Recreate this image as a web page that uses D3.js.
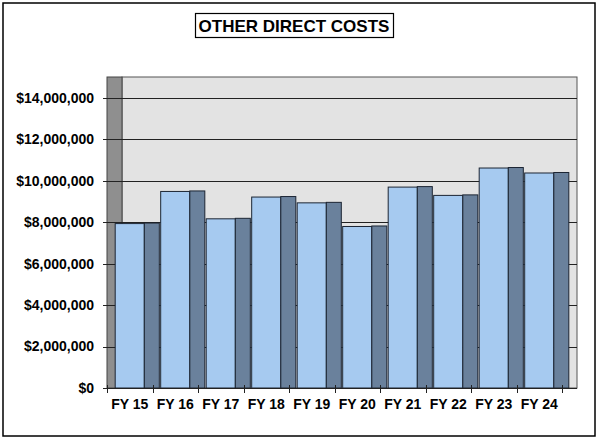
<!DOCTYPE html>
<html>
<head>
<meta charset="utf-8">
<script src="https://cdn.jsdelivr.net/npm/d3@7"></script>
<style>
  body { margin: 0; background: #fff; }
  text { font-family: Arial, "Liberation Sans", sans-serif; font-weight: bold; fill: #000; }
</style>
</head>
<body>
<div id="chart"></div>
<script>
// data
var categories = ["FY 15", "FY 16", "FY 17", "FY 18", "FY 19", "FY 20", "FY 21", "FY 22", "FY 23", "FY 24"];
var costs = [7930000, 9480000, 8160000, 9210000, 8930000, 7790000, 9690000, 9290000, 10610000, 10370000];
var yTicks = [0, 2000000, 4000000, 6000000, 8000000, 10000000, 12000000, 14000000];
var chartTitle = "OTHER DIRECT COSTS";

var width = 597, height = 438;
var plot = {left: 107, right: 562, top: 77, bottom: 388};
var depth = 15;   // the fake 3d depth, sideways only

var svg = d3.select("#chart").append("svg")
    .attr("width", width)
    .attr("height", height);

// outer frame
svg.append("rect")
    .attr("x", 3).attr("y", 3)
    .attr("width", 592).attr("height", 433)
    .attr("fill", "#fff")
    .attr("stroke", "#000")
    .attr("stroke-width", 1.5);

var x = d3.scaleBand()
    .domain(categories)
    .range([plot.left, plot.right]);

var y = d3.scaleLinear()
    .domain([0, 15000000])
    .range([plot.bottom, plot.top]);

// back wall
svg.append("rect")
    .attr("x", plot.left + depth).attr("y", plot.top)
    .attr("width", plot.right - plot.left).attr("height", plot.bottom - plot.top)
    .attr("fill", "#e3e3e3")
    .attr("stroke", "#555")
    .attr("stroke-width", 1);

// side wall
svg.append("rect")
    .attr("x", plot.left).attr("y", plot.top)
    .attr("width", depth).attr("height", plot.bottom - plot.top)
    .attr("fill", "#8f8f8f")
    .attr("stroke", "#444")
    .attr("stroke-width", 1);

// gridlines + y ticks
svg.append("g").selectAll("line")
    .data(yTicks)
  .enter().append("line")
    .attr("x1", plot.left - 4)
    .attr("x2", plot.right + depth)
    .attr("y1", function(d) { return Math.round(y(d)) + 0.5; })
    .attr("y2", function(d) { return Math.round(y(d)) + 0.5; })
    .attr("stroke", "#222")
    .attr("stroke-width", 1.2);

// y labels
var fmt = d3.format("$,");
svg.append("g").selectAll("text")
    .data(yTicks)
  .enter().append("text")
    .attr("x", 94)
    .attr("y", function(d) { return y(d); })
    .attr("dy", "0.35em")
    .attr("text-anchor", "end")
    .style("font-size", "14px")
    .text(function(d) { return fmt(d); });

// bars: front face + dark side face
var faceW = x.bandwidth() * 0.64;
var bars = svg.append("g").selectAll("g")
    .data(costs)
  .enter().append("g");

bars.append("rect")
    .attr("x", function(d, i) { return x(categories[i]) + (x.bandwidth() - faceW) / 2; })
    .attr("y", function(d) { return y(d); })
    .attr("width", faceW)
    .attr("height", function(d) { return y(0) - y(d); })
    .attr("fill", "#a6caf0")
    .attr("stroke", "#1c2533")
    .attr("stroke-width", 1);

bars.append("rect")
    .attr("x", function(d, i) { return x(categories[i]) + (x.bandwidth() + faceW) / 2; })
    .attr("y", function(d) { return y(d) - 0.5; })
    .attr("width", depth)
    .attr("height", function(d) { return y(0) - y(d) + 0.5; })
    .attr("fill", "#6a819c")
    .attr("stroke", "#1c2533")
    .attr("stroke-width", 1);

// x axis line and ticks
svg.append("line")
    .attr("x1", plot.left - 4).attr("x2", plot.right + depth)
    .attr("y1", plot.bottom + 0.5).attr("y2", plot.bottom + 0.5)
    .attr("stroke", "#222").attr("stroke-width", 1.2);

var bounds = categories.map(function(c) { return x(c); }).concat([plot.right]);
svg.append("g").selectAll("line")
    .data(bounds)
  .enter().append("line")
    .attr("x1", function(d) { return Math.round(d) + 0.5; })
    .attr("x2", function(d) { return Math.round(d) + 0.5; })
    .attr("y1", plot.bottom - 3)
    .attr("y2", plot.bottom + 5)
    .attr("stroke", "#222");

svg.append("g").selectAll("text")
    .data(categories)
  .enter().append("text")
    .attr("x", function(d) { return x(d) + x.bandwidth() / 2; })
    .attr("y", 409)
    .attr("text-anchor", "middle")
    .style("font-size", "14px")
    .text(function(d) { return d; });

// title in its box
svg.append("rect")
    .attr("x", 195.5).attr("y", 13.5)
    .attr("width", 198).attr("height", 24)
    .attr("fill", "#fff")
    .attr("stroke", "#000")
    .attr("stroke-width", 1.2);

svg.append("text")
    .attr("x", 294)
    .attr("y", 31.5)
    .attr("text-anchor", "middle")
    .style("font-size", "17px")
    .text(chartTitle);
</script>
</body>
</html>
